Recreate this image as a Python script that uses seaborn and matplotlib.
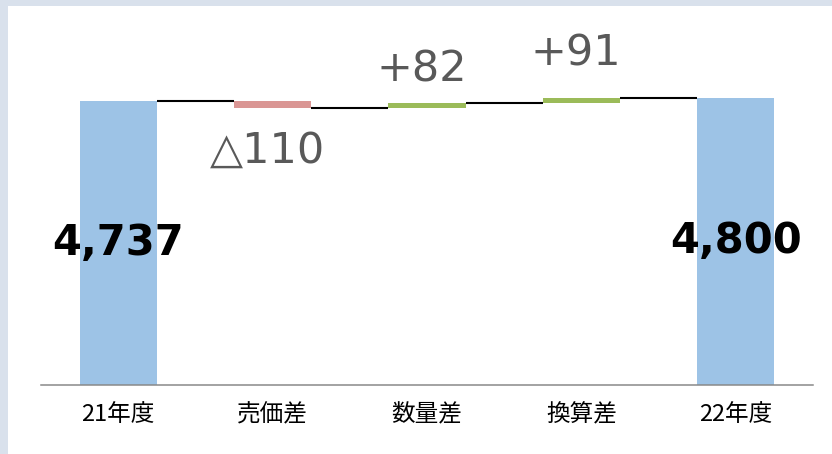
import matplotlib.pyplot as plt
import seaborn as sns
from matplotlib.patches import Rectangle

# datos del gráfico de cascada
categories = ["21年度", "売価差", "数量差", "換算差", "22年度"]
values = [4737, -110, 82, 91, 4800]
is_total = [True, False, False, False, True]

sns.set_theme(style="white")
plt.rcParams['font.family'] = ['Noto Sans CJK JP', 'DejaVu Sans']

# calcular bases y alturas
bottoms, heights, levels = [], [], []
level = 0
for v, tot in zip(values, is_total):
    if tot:
        bottoms.append(0)
        heights.append(v)
        level = v
    else:
        bottoms.append(min(level, level + v))
        heights.append(abs(v))
        level = level + v
    levels.append(level)

colors = []
for v, tot in zip(values, is_total):
    if tot:
        colors.append("#9DC3E6")
    elif v < 0:
        colors.append("#DA9694")
    else:
        colors.append("#9BBB59")

fig = plt.figure(figsize=(8.32, 4.54), dpi=100)
fig.patch.set_facecolor("#D9E1EC")
fig.patches.append(Rectangle((8 / 832, 0), 1, 1 - 6 / 454, transform=fig.transFigure,
                             facecolor="white", edgecolor="none", zorder=-5))
ax = fig.add_axes([41 / 832, 1 - 385 / 454, 772 / 832, 370 / 454])
ax.set_facecolor("none")

bw = 0.5
sns.barplot(x=categories, y=heights, hue=categories, palette=colors, width=bw,
            saturation=1, linewidth=0, legend=False, ax=ax)
# mover las barras flotantes a su base
for patch, b in zip(ax.patches, bottoms):
    patch.set_y(b)

# líneas de conexión
for i in range(len(categories) - 1):
    ax.hlines(levels[i], i + bw / 2, i + 1 - bw / 2, color="black", lw=1.5, zorder=3)

# etiquetas
label_dy = [0, -31, 24, 32, 0]
for i, (v, tot) in enumerate(zip(values, is_total)):
    if tot:
        ax.text(i, v / 2, f"{v:,}", ha="center", va="center", fontsize=30,
                fontweight="bold", color="black", family="DejaVu Sans")
    else:
        txt = f"+{v}" if v > 0 else f"△{abs(v)}"
        y = bottoms[i] + heights[i] if v > 0 else bottoms[i]
        ax.annotate(txt, (i, y), xytext=(-4, label_dy[i]), textcoords="offset points",
                    ha="center", va="center", fontsize=31, color="#595959",
                    family="DejaVu Sans")

ax.set_xlim(-0.5, 4.5)
ax.set_ylim(0, 6180)
ax.set_yticks([])
ax.set_xlabel("")
ax.set_ylabel("")
for s in ["left", "right", "top"]:
    ax.spines[s].set_visible(False)
ax.spines["bottom"].set_color("#898989")
ax.spines["bottom"].set_linewidth(1.1)
ax.tick_params(axis="x", length=0, pad=13, labelsize=17, labelcolor="black")

plt.savefig("out.png", dpi=100, facecolor=fig.get_facecolor())
